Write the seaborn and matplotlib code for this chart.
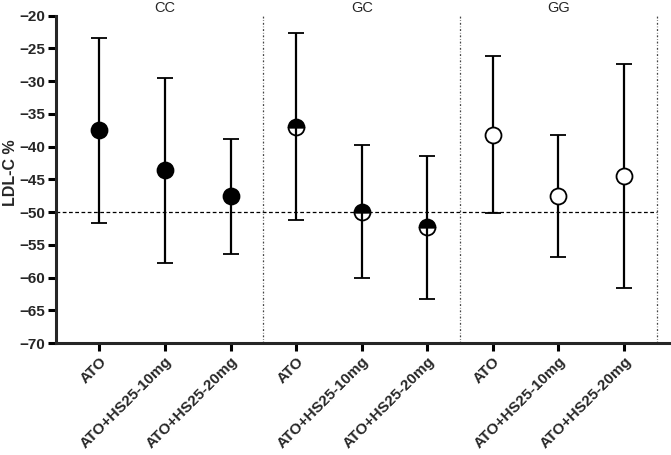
import matplotlib
matplotlib.use("Agg")
import matplotlib.pyplot as plt
import seaborn as sns
import numpy as np
import pandas as pd

# Data

genotypes = ["CC", "GC", "GG"]
treatments = ["ATO", "ATO+HS25-10mg", "ATO+HS25-20mg"]

cc_mean = [-37.5, -43.6, -47.6]
cc_upper = [-23.4, -29.5, -38.8]
cc_lower = [-51.6, -57.8, -56.4]

gc_mean = [-37.0, -50.0, -52.3]
gc_upper = [-22.7, -39.8, -41.4]
gc_lower = [-51.2, -60.1, -63.2]

gg_mean = [-38.2, -47.5, -44.5]
gg_upper = [-26.1, -38.2, -27.4]
gg_lower = [-50.2, -56.9, -61.6]

df = pd.DataFrame({
    "genotype": np.repeat(genotypes, 3),
    "treatment": treatments * 3,
    "mean": cc_mean + gc_mean + gg_mean,
    "upper": cc_upper + gc_upper + gg_upper,
    "lower": cc_lower + gc_lower + gg_lower,
})
df["pos"] = np.arange(len(df))

# Style

sns.set_style("ticks")
plt.rcParams['font.family'] = ['Liberation Sans', 'DejaVu Sans']

fig = plt.figure(figsize=(6.71, 4.55), dpi=100)
ax = fig.add_axes([0.0835, 0.246, 0.915, 0.7195])

marker_styles = {
    "CC": dict(markerfacecolor="black", fillstyle="full"),
    "GC": dict(markerfacecolor="black", fillstyle="top",
               markerfacecoloralt="none"),
    "GG": dict(markerfacecolor="white", fillstyle="full"),
}

for g in genotypes:
    sub = df[df["genotype"] == g]
    err = np.vstack([
        sub["mean"] - sub["lower"],
        sub["upper"] - sub["mean"]
    ])
    ax.errorbar(
        sub["pos"], sub["mean"], yerr=err,
        fmt="o", color="black", ecolor="black",
        elinewidth=1.6, capsize=5.5, capthick=1.6,
        markersize=11.5, markeredgewidth=1.3,
        markeredgecolor="black", zorder=3,
        **marker_styles[g]
    )

# Reference lines

ax.plot([-0.66, 8.5], [-50, -50], linestyle=(0, (3, 2)),
        color="black", linewidth=0.9, zorder=1)

for xv in [2.5, 5.5, 8.5]:
    ax.axvline(xv, linestyle=(0, (1.5, 1.5, 0.5, 1.5)),
               color="#444444", linewidth=0.9, zorder=1)

# Group labels
for i, g in enumerate(genotypes):
    ax.text(1 + 3 * i, -18.9, g, ha="center", va="center",
            fontsize=10.5, clip_on=False)

# Axes

ax.set_xlim(-0.66, 8.7)
ax.set_ylim(-70, -20)
ax.set_yticks(np.arange(-70, -19, 5))
ax.set_xticks(df["pos"])
ax.set_xticklabels(df["treatment"], rotation=45, ha="right",
                   rotation_mode="anchor", fontweight="bold", fontsize=11)
for lab in ax.get_yticklabels():
    lab.set_fontweight("bold")
    lab.set_fontsize(11)

ax.set_ylabel("LDL-C %", fontweight="bold", fontsize=11.5)
ax.yaxis.set_label_coords(-0.062, 0.519)

sns.despine(ax=ax, top=True, right=True)
ax.spines["left"].set_linewidth(2.2)
ax.spines["bottom"].set_linewidth(2.2)
ax.tick_params(axis="both", width=2.2, length=6, pad=2, color="black")

plt.savefig("out.png", dpi=100)
